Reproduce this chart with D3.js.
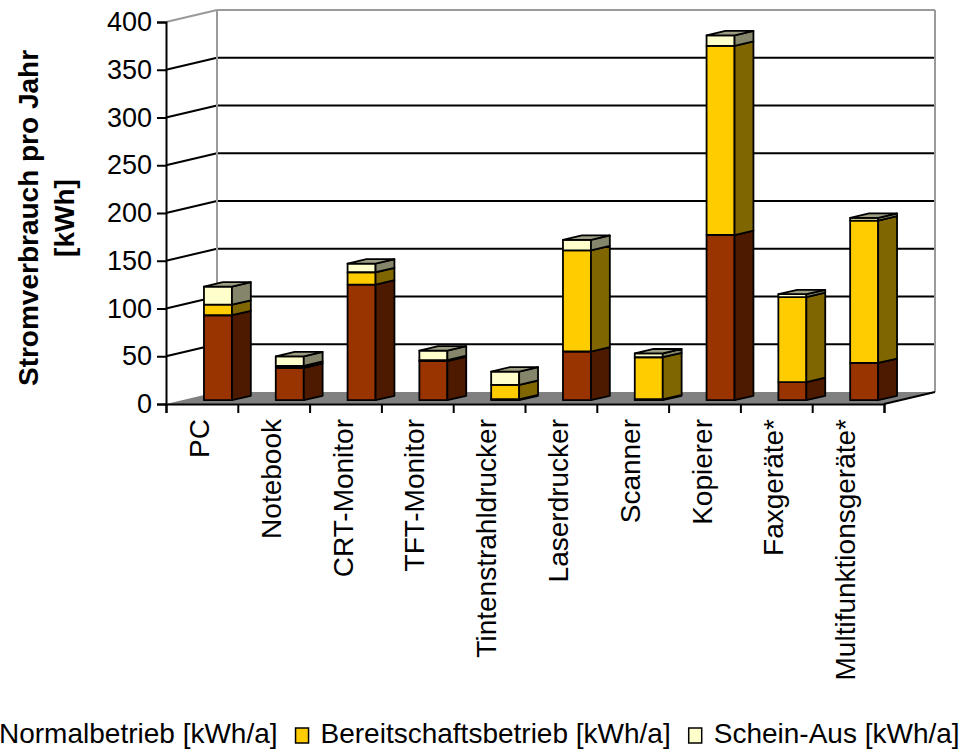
<!DOCTYPE html>
<html>
<head>
<meta charset="utf-8">
<script src="https://cdn.jsdelivr.net/npm/d3@7"></script>
<style>
  html, body { margin: 0; padding: 0; background: #fff; }
  svg { display: block; }
  text { font-family: Arial, "Liberation Sans", sans-serif; fill: #000; }
</style>
</head>
<body>
<svg id="chart" width="965" height="749"></svg>
<script>
// Annual electricity consumption per device type, kWh
const categories = ["PC", "Notebook", "CRT-Monitor", "TFT-Monitor", "Tintenstrahldrucker",
  "Laserdrucker", "Scanner", "Kopierer", "Faxgeräte*", "Multifunktionsgeräte*"];
const normalbetrieb = [89, 34, 121, 41, 1, 51, 1, 173, 19, 39];
const bereitschaftsbetrieb = [11, 2, 13, 1, 15, 106, 44, 198, 89, 149];
const scheinAus = [19, 10, 9, 10, 14, 11, 4, 11, 3, 3];
const seriesNames = ["Normalbetrieb [kWh/a]", "Bereitschaftsbetrieb [kWh/a]", "Schein-Aus [kWh/a]"];
const yTicks = [0, 50, 100, 150, 200, 250, 300, 350, 400];
const axisTitle = ["Stromverbrauch pro Jahr", "[kWh]"];

// face colours per series: front, side, top
const faceColors = [
  { front: "#993300", side: "#4d1a00", top: "#6b3a1e" },
  { front: "#ffcc00", side: "#806600", top: "#a08a30" },
  { front: "#ffffcc", side: "#85856b", top: "#9e9e84" }
];

const svg = d3.select("#chart");

const rows = categories.map((c, i) => ({
  cat: c, s0: normalbetrieb[i], s1: bereitschaftsbetrieb[i], s2: scheinAus[i]
}));
const stacked = d3.stack().keys(["s0", "s1", "s2"])(rows);

// front plane scales, plus an oblique depth vector for the 3-D box
const x = d3.scaleBand().domain(categories).range([166, 884]).padding(0);
const y = d3.scaleLinear().domain([0, 400]).range([404, 22]);
const depth = { dx: 51, dy: -12 };
const P = (xf, v, z) => [xf + depth.dx * z, y(v) + depth.dy * z];
const x0 = x.range()[0], x1 = x.range()[1];

const pts = arr => arr.map(p => p.join(",")).join(" ");

// walls
const walls = svg.append("g");
walls.append("polygon")
  .attr("points", pts([P(x0, 0, 1), P(x0, 400, 1), P(x1, 400, 1), P(x1, 0, 1)]))
  .attr("fill", "#fff");
// floor
walls.append("polygon")
  .attr("points", pts([P(x0, 0, 0), P(x0, 0, 1), P(x1, 0, 1), P(x1, 0, 0)]))
  .attr("fill", "#808080");

// gridlines on back wall and left wall
yTicks.filter(v => v > 0).forEach(v => {
  const col = v === 400 ? "#9a9a9a" : "#000";
  walls.append("line")
    .attr("x1", P(x0, v, 1)[0]).attr("y1", P(x0, v, 1)[1])
    .attr("x2", P(x1, v, 1)[0]).attr("y2", P(x1, v, 1)[1])
    .attr("stroke", col).attr("stroke-width", 2);
  walls.append("line")
    .attr("x1", P(x0, v, 0)[0]).attr("y1", P(x0, v, 0)[1])
    .attr("x2", P(x0, v, 1)[0]).attr("y2", P(x0, v, 1)[1])
    .attr("stroke", col).attr("stroke-width", 2);
});
// wall edges
[[P(x0, 0, 1), P(x0, 400, 1)], [P(x1, 0, 1), P(x1, 400, 1)]].forEach(([a, b]) => {
  walls.append("line")
    .attr("x1", a[0]).attr("y1", a[1]).attr("x2", b[0]).attr("y2", b[1])
    .attr("stroke", "#9a9a9a").attr("stroke-width", 2);
});
walls.append("line")
  .attr("x1", P(x1, 0, 0)[0]).attr("y1", P(x1, 0, 0)[1])
  .attr("x2", P(x1, 0, 1)[0]).attr("y2", P(x1, 0, 1)[1])
  .attr("stroke", "#000").attr("stroke-width", 2);

// bars
const barW = x.bandwidth() * 0.39;
const zFront = 0.315, zBack = 0.685;
const bars = svg.append("g").attr("stroke", "#000").attr("stroke-width", 1.8)
  .attr("stroke-linejoin", "round");

categories.forEach((c, i) => {
  const xl = x(c) + (x.bandwidth() - barW) / 2;
  const xr = xl + barW;
  stacked.forEach((layer, k) => {
    const [lo, hi] = layer[i];
    if (hi - lo <= 0) return;
    const col = faceColors[k];
    // front face
    bars.append("polygon")
      .attr("points", pts([P(xl, lo, zFront), P(xr, lo, zFront), P(xr, hi, zFront), P(xl, hi, zFront)]))
      .attr("fill", col.front);
    // right side face
    bars.append("polygon")
      .attr("points", pts([P(xr, lo, zFront), P(xr, lo, zBack), P(xr, hi, zBack), P(xr, hi, zFront)]))
      .attr("fill", col.side);
    // top face of the uppermost segment
    if (k === stacked.length - 1) {
      bars.append("polygon")
        .attr("points", pts([P(xl, hi, zFront), P(xr, hi, zFront), P(xr, hi, zBack), P(xl, hi, zBack)]))
        .attr("fill", col.top);
    }
  });
});

// value axis
const yAxis = svg.append("g")
  .attr("transform", `translate(${x0},0)`)
  .call(d3.axisLeft(y).tickValues(yTicks).tickSize(9).tickPadding(5));
yAxis.select(".domain").attr("stroke", "#000").attr("stroke-width", 2);
yAxis.selectAll(".tick line").attr("stroke", "#000").attr("stroke-width", 2);
yAxis.selectAll(".tick text").attr("font-size", 27).attr("font-family", "Arial, 'Liberation Sans', sans-serif")
  .attr("fill", "#000");

// category axis with ticks at band boundaries
const xEdges = d3.scaleLinear().domain([0, categories.length]).range([x0, x1]);
const xAxis = svg.append("g")
  .attr("transform", `translate(0,${y(0)})`)
  .call(d3.axisBottom(xEdges).tickValues(d3.range(categories.length + 1)).tickSize(9).tickFormat(""));
xAxis.select(".domain").attr("stroke", "#000").attr("stroke-width", 2);
xAxis.selectAll(".tick line").attr("stroke", "#000").attr("stroke-width", 2);

svg.append("g").selectAll("text").data(categories).join("text")
  .attr("transform", d => `translate(${x(d) + x.bandwidth() / 2 + 7},${y(0) + 15}) rotate(-90)`)
  .attr("text-anchor", "end")
  .attr("font-size", 28)
  .text(d => d);

// axis title
svg.append("g").selectAll("text").data(axisTitle).join("text")
  .attr("transform", (d, i) => `translate(${38 + i * 36},218) rotate(-90)`)
  .attr("text-anchor", "middle")
  .attr("font-size", 28)
  .attr("font-weight", "bold")
  .text(d => d);

// legend
const legend = svg.append("g");
let lx = -26;
const ly = 743;
seriesNames.forEach((name, k) => {
  legend.append("rect")
    .attr("x", lx).attr("y", ly - 15).attr("width", 13).attr("height", 15)
    .attr("fill", faceColors[k].front).attr("stroke", "#000").attr("stroke-width", 1.5);
  const t = legend.append("text")
    .attr("x", lx + 25).attr("y", ly)
    .attr("font-size", 28)
    .text(name);
  lx += 25 + t.node().getComputedTextLength() + 18;
});
</script>
</body>
</html>
